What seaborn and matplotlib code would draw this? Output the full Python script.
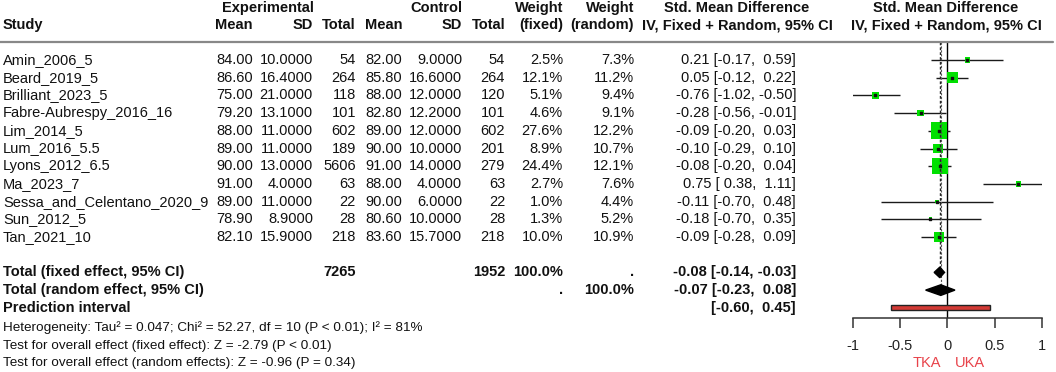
import numpy as np
import pandas as pd
import seaborn as sns
import matplotlib.pyplot as plt
from matplotlib.transforms import blended_transform_factory
from matplotlib.lines import Line2D

# ---------------------------------------------------------------------------
# data
# ---------------------------------------------------------------------------
studies = ["Amin_2006_5", "Beard_2019_5", "Brilliant_2023_5", "Fabre-Aubrespy_2016_16",
           "Lim_2014_5", "Lum_2016_5.5", "Lyons_2012_6.5", "Ma_2023_7",
           "Sessa_and_Celentano_2020_9", "Sun_2012_5", "Tan_2021_10"]
exp_mean = [84.00, 86.60, 75.00, 79.20, 88.00, 89.00, 90.00, 91.00, 89.00, 78.90, 82.10]
exp_sd = [10.0, 16.4, 21.0, 13.1, 11.0, 11.0, 13.0, 4.0, 11.0, 8.9, 15.9]
exp_n = [54, 264, 118, 101, 602, 189, 5606, 63, 22, 28, 218]
ctl_mean = [82.00, 85.80, 88.00, 82.80, 89.00, 90.00, 91.00, 88.00, 90.00, 80.60, 83.60]
ctl_sd = [9.0, 16.6, 12.0, 12.2, 12.0, 10.0, 14.0, 4.0, 6.0, 10.0, 15.7]
ctl_n = [54, 264, 120, 101, 602, 201, 279, 63, 22, 28, 218]
w_fixed = [2.5, 12.1, 5.1, 4.6, 27.6, 8.9, 24.4, 2.7, 1.0, 1.3, 10.0]
w_random = [7.3, 11.2, 9.4, 9.1, 12.2, 10.7, 12.1, 7.6, 4.4, 5.2, 10.9]
smd = [0.21, 0.05, -0.76, -0.28, -0.09, -0.10, -0.08, 0.75, -0.11, -0.18, -0.09]
ci_low = [-0.17, -0.12, -1.02, -0.56, -0.20, -0.29, -0.20, 0.38, -0.70, -0.70, -0.28]
ci_high = [0.59, 0.22, -0.50, -0.01, 0.03, 0.10, 0.04, 1.11, 0.48, 0.35, 0.09]

fixed_est, fixed_low, fixed_high = -0.08, -0.14, -0.03
random_est, random_low, random_high = -0.07, -0.23, 0.08
pred_low, pred_high = -0.60, 0.45
total_exp, total_ctl = 7265, 1952

xticks = [-1, -0.5, 0, 0.5, 1]
xticklabels = ["-1", "-0.5", "0", "0.5", "1"]

df = pd.DataFrame({"study": studies, "smd": smd, "low": ci_low, "high": ci_high,
                   "w": w_fixed, "row": np.arange(1, len(studies) + 1)})

# ---------------------------------------------------------------------------
sns.set_theme(style="white")
plt.rcParams["font.family"] = ["Liberation Sans", "DejaVu Sans"]
FS = 10.5
W, H = 1056, 372

fig = plt.figure(figsize=(W / 100, H / 100), dpi=100)
# forest panel: -1..1 between x=853px and x=1042px, rows from y=42px to y=318px
ax = fig.add_axes([852.7 / W, (H - 318) / H, 189.4 / W, 276 / H])
ax.set_xlim(-1, 1)
ax.set_ylim(1 + (318 - 60) / 17.7, 1 + (42 - 60) / 17.7)
ax.patch.set_alpha(0)

tr = blended_transform_factory(fig.transFigure, ax.transData)


def row_of(px):
    return 1 + (px - 60) / 17.7


def put(px, row, s, ha="right", bold=False, size=FS, color="#111111"):
    ax.text(px / W, row, s, transform=tr, ha=ha, va="center", fontsize=size,
            fontweight="bold" if bold else "normal", color=color, clip_on=False)


# header
r1, r2 = row_of(8), row_of(25)
put(268, r1, "Experimental", ha="center", bold=True)
put(436, r1, "Control", ha="center", bold=True)
put(563, r1, "Weight", bold=True)
put(634, r1, "Weight", bold=True)
put(737, r1, "Std. Mean Difference", ha="center", bold=True)
put(946, r1, "Std. Mean Difference", ha="center", bold=True)
put(3, r2, "Study", ha="left", bold=True)
put(253, r2, "Mean", bold=True)
put(313, r2, "SD", bold=True)
put(356, r2, "Total", bold=True)
put(402, r2, "Mean", bold=True)
put(462, r2, "SD", bold=True)
put(505, r2, "Total", bold=True)
put(563, r2, "(fixed)", bold=True)
put(634, r2, "(random)", bold=True)
put(737, r2, "IV, Fixed + Random, 95% CI", ha="center", bold=True)
put(946, r2, "IV, Fixed + Random, 95% CI", ha="center", bold=True)

fig.add_artist(Line2D([0, 1053 / W], [row_of(42)] * 2, transform=tr,
                      color="#888888", lw=1.6))


def fmt(v):
    return f"{v:.2f}" if v < 0 else f" {v:.2f}"


# study rows
for i, s in enumerate(studies):
    r = i + 1
    put(3, r, s, ha="left")
    put(253, r, f"{exp_mean[i]:.2f}")
    put(313, r, f"{exp_sd[i]:.4f}")
    put(356, r, f"{exp_n[i]}")
    put(402, r, f"{ctl_mean[i]:.2f}")
    put(462, r, f"{ctl_sd[i]:.4f}")
    put(505, r, f"{ctl_n[i]}")
    put(563, r, f"{w_fixed[i]:.1f}%")
    put(634, r, f"{w_random[i]:.1f}%")
    put(796, r, f"{smd[i]:.2f} [{fmt(ci_low[i])}, {fmt(ci_high[i])}]")

# totals
put(3, 13, "Total (fixed effect, 95% CI)", ha="left", bold=True)
put(356, 13, f"{total_exp}", bold=True)
put(505, 13, f"{total_ctl}", bold=True)
put(563, 13, "100.0%", bold=True)
put(634, 13, ".", bold=True)
put(796, 13, f"{fixed_est:.2f} [{fmt(fixed_low)}, {fmt(fixed_high)}]", bold=True)
put(3, 14, "Total (random effect, 95% CI)", ha="left", bold=True)
put(563, 14, ".", bold=True)
put(634, 14, "100.0%", bold=True)
put(796, 14, f"{random_est:.2f} [{fmt(random_low)}, {fmt(random_high)}]", bold=True)
put(3, 15, "Prediction interval", ha="left", bold=True)
put(796, 15, f"[{fmt(pred_low)}, {fmt(pred_high)}]", bold=True)

put(3, row_of(328), "Heterogeneity: Tau² = 0.047; Chi² = 52.27, df = 10 (P < 0.01); I² = 81%",
    ha="left", size=9.7)
put(3, row_of(346), "Test for overall effect (fixed effect): Z = -2.79 (P < 0.01)",
    ha="left", size=9.7)
put(3, row_of(363), "Test for overall effect (random effects): Z = -0.96 (P = 0.34)",
    ha="left", size=9.7)

# forest panel
ax.axvline(0, color="black", lw=1, zorder=1)
ax.vlines(fixed_est, ax.get_ylim()[1], 13, color="#222222", lw=1, ls=(0, (2, 1.5)), zorder=4)
ax.vlines(random_est, ax.get_ylim()[1], 14, color="#555555", lw=0.8, ls=(0, (2, 1.5)), zorder=4)

ax.hlines(df["row"], df["low"], df["high"], color="#1a1a1a", lw=1, zorder=2)
sns.scatterplot(data=df, x="smd", y="row", size="w", sizes=(5.2, 5.2 * 27.6),
                size_norm=(1.0, 27.6), marker="s", color="#00E000", linewidth=0,
                legend=False, ax=ax, zorder=3, clip_on=False)
ax.scatter(df["smd"], df["row"], marker="s", s=3, color="#111111", zorder=5, clip_on=False)

for r, lo, est, hi, h in [(13, fixed_low, fixed_est, fixed_high, 0.3),
                          (14, random_low, random_est, random_high, 0.3)]:
    ax.fill([lo, est, hi, est], [r, r - h, r, r + h], color="black", zorder=6)

ax.barh(15, pred_high - pred_low, left=pred_low, height=0.26, color="#D33A35",
        edgecolor="#222222", linewidth=1, zorder=6)

for sp in ["top", "left", "right"]:
    ax.spines[sp].set_visible(False)
ax.spines["bottom"].set_bounds(-1, 1)
ax.spines["bottom"].set_color("#333333")
ax.spines["bottom"].set_linewidth(1.1)
ax.set_yticks([])
ax.set_xticks(xticks)
ax.set_xticklabels(xticklabels)
ax.tick_params(axis="x", bottom=True, direction="out", length=7.2, width=1.1,
               color="#333333", labelsize=FS, labelcolor="#222222", pad=8)
ax.set_xlabel("")
ax.set_ylabel("")

put(927, row_of(363), "TKA", ha="center", color="#E8424A")
put(970, row_of(363), "UKA", ha="center", color="#E8424A")

fig.savefig("out.png", dpi=100)
